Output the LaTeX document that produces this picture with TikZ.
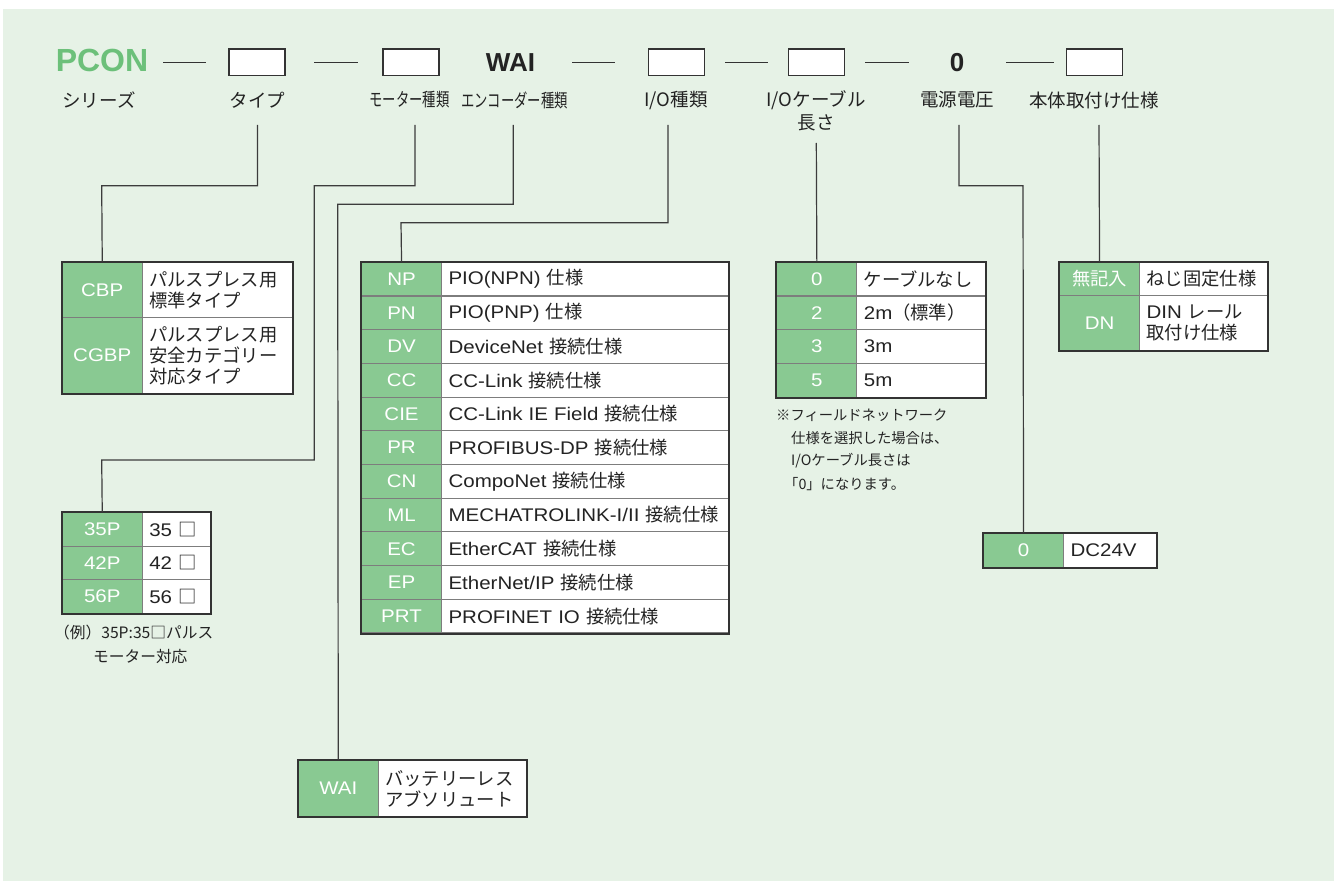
\documentclass[tikz,border=0pt]{standalone}
\usepackage{fontspec}
\setmainfont{Noto Sans CJK JP}
\newfontfamily\latn[FakeStretch=1.12]{Liberation Sans}
\newfontfamily\hdrf{Liberation Sans}
\definecolor{bggreen}{RGB}{230,242,230}
\definecolor{cellgreen}{RGB}{137,201,146}
\definecolor{pcongreen}{RGB}{108,192,122}
\definecolor{darkline}{RGB}{51,51,51}
\definecolor{gridgray}{RGB}{125,125,125}
\definecolor{conngray}{RGB}{60,60,60}
\definecolor{txt}{RGB}{35,35,35}
\begin{document}
\begin{tikzpicture}[x=1pt,y=-1pt,
  code/.style={draw=gridgray,line width=1.1pt,fill=cellgreen,text=white,minimum width=80pt,inner sep=0pt,anchor=north west,font=\latn\fontsize{18.3}{21}\selectfont},
  desc/.style={draw=gridgray,line width=1.1pt,fill=white,text=txt,inner xsep=7pt,inner ysep=0pt,anchor=north west,align=left,font=\fontsize{18.3}{21}\selectfont},
  outer/.style={draw=darkline,line width=2pt},
  hbox/.style={draw=darkline,line width=1.4pt,fill=white,minimum width=56pt,minimum height=26.7pt,inner sep=0pt},
  hdash/.style={draw=darkline,line width=1.1pt},
  lbl/.style={text=txt,inner sep=0pt,font=\fontsize{18.5}{22}\selectfont},
  conn/.style={draw=conngray,line width=1.2pt},
  note/.style={text=txt,inner sep=0pt,anchor=west,font=\fontsize{14.3}{17}\selectfont},
  note2/.style={text=txt,inner sep=0pt,anchor=west,font=\fontsize{15.7}{18}\selectfont},
]
\useasboundingbox (0,0) rectangle (1337,893);
\fill[bggreen] (3,9) rectangle (1334,881);

% ---------- header ----------
\node[text=pcongreen,inner sep=0pt,anchor=base,font=\hdrf\bfseries\fontsize{32}{32}\selectfont] (pcon) at (102,71.7) {PCON};
\node[hbox] (b1) at (257,62.3) {};
\node[hbox] (b2) at (411,62.3) {};
\node[text=txt,inner sep=0pt,anchor=base,font=\hdrf\bfseries\fontsize{26}{26}\selectfont] (wai0) at (510.5,71.7) {WAI};
\node[hbox] (b3) at (676.3,62.3) {};
\node[hbox] (b4) at (816.5,62.3) {};
\node[text=txt,inner sep=0pt,anchor=base,font=\hdrf\bfseries\fontsize{26}{26}\selectfont] (zero) at (957,71.7) {0};
\node[hbox] (b5) at (1094.5,62.3) {};
\draw[hdash] (163,62.3) -- (206,62.3);
\draw[hdash] (314,62.3) -- (357.5,62.3);
\draw[hdash] (572,62.3) -- (615,62.3);
\draw[hdash] (725,62.3) -- (767.5,62.3);
\draw[hdash] (865,62.3) -- (908.6,62.3);
\draw[hdash] (1006,62.3) -- (1054,62.3);

\node[lbl] (lser) at (99,100) {シリーズ};
\node[lbl] (ltype) at (257.5,100) {タイプ};
\node[lbl] (lmot) at (409.5,100) {\scalebox{0.72}[1]{モーター種類}};
\node[lbl] (lenc) at (514.5,100) {\scalebox{0.72}[1]{エンコーダー種類}};
\node[lbl] (lio) at (676,100) {I/O種類};
\node[lbl] (lcab) at (816,100) {I/Oケーブル};
\node[lbl] (lcab2) at (816,122.5) {長さ};
\node[lbl] (lpow) at (957,100) {電源電圧};
\node[lbl] (lmnt) at (1094,100) {本体取付け仕様};

\coordinate (ct) at (257.5,125);
\coordinate (cm) at (415,125);
\coordinate (ce) at (513.3,125);
\coordinate (cio) at (668,125);
\coordinate (ccab) at (816.3,143);
\coordinate (cpow) at (959,125);
\coordinate (cmt) at (1099,125);

% ---------- CBP table ----------
\node[code,minimum height=55pt] (cbp) at (61.7,261.7) {CBP};
\node[desc,text width=136pt,minimum height=55pt] (cbpd) at (141.7,261.7) {パルスプレス用\\標準タイプ};
\node[code,minimum height=76.3pt] (cgbp) at (61.7,316.7) {CGBP};
\node[desc,text width=136pt,minimum height=76.3pt] (cgbpd) at (141.7,316.7) {パルスプレス用\\安全カテゴリー\\対応タイプ};
\draw[outer] (cbp.north west) rectangle (cgbpd.south east);

% ---------- motor table ----------
\node[code,minimum height=33.5pt] (p35) at (61.7,512) {35P};
\node[desc,text width=54.3pt,minimum height=33.5pt] (p35d) at (141.7,512) {{\latn 35 }□};
\node[code,minimum height=33.5pt] (p42) at (61.7,545.5) {42P};
\node[desc,text width=54.3pt,minimum height=33.5pt] (p42d) at (141.7,545.5) {{\latn 42 }□};
\node[code,minimum height=33.5pt] (p56) at (61.7,579) {56P};
\node[desc,text width=54.3pt,minimum height=33.5pt] (p56d) at (141.7,579) {{\latn 56 }□};
\draw[outer] (p35.north west) rectangle (p56d.south east);
\node[note2] (n35a) at (54,633) {（例）35P:35□パルス};
\node[note2] (n35b) at (93,657) {モーター対応};

% ---------- WAI table ----------
\node[code,minimum height=56pt] (wai) at (297.7,760) {WAI};
\node[desc,text width=134pt,minimum height=56pt] (waid) at (377.7,760) {バッテリーレス\\アブソリュート};
\draw[outer] (wai.north west) rectangle (waid.south east);

% ---------- I/O table ----------
\node[code,minimum height=33.7pt] (np) at (361,261.7) {NP};
\node[desc,text width=273pt,minimum height=33.7pt] (npd) at (441,261.7) {{\latn PIO(NPN)} 仕様};
\node[code,minimum height=33.7pt] (pn) at (361,295.4) {PN};
\node[desc,text width=273pt,minimum height=33.7pt] (pnd) at (441,295.4) {{\latn PIO(PNP)} 仕様};
\node[code,minimum height=33.7pt] (dv) at (361,329.1) {DV};
\node[desc,text width=273pt,minimum height=33.7pt] (dvd) at (441,329.1) {{\latn DeviceNet} 接続仕様};
\node[code,minimum height=33.7pt] (cc) at (361,362.8) {CC};
\node[desc,text width=273pt,minimum height=33.7pt] (ccd) at (441,362.8) {{\latn CC-Link} 接続仕様};
\node[code,minimum height=33.7pt] (cie) at (361,396.5) {CIE};
\node[desc,text width=273pt,minimum height=33.7pt] (cied) at (441,396.5) {{\latn CC-Link IE Field} 接続仕様};
\node[code,minimum height=33.7pt] (pr) at (361,430.2) {PR};
\node[desc,text width=273pt,minimum height=33.7pt] (prd) at (441,430.2) {{\latn PROFIBUS-DP} 接続仕様};
\node[code,minimum height=33.7pt] (cn) at (361,463.9) {CN};
\node[desc,text width=273pt,minimum height=33.7pt] (cnd) at (441,463.9) {{\latn CompoNet} 接続仕様};
\node[code,minimum height=33.7pt] (ml) at (361,497.6) {ML};
\node[desc,text width=273pt,minimum height=33.7pt] (mld) at (441,497.6) {{\latn MECHATROLINK-I/II} 接続仕様};
\node[code,minimum height=33.7pt] (ec) at (361,531.3) {EC};
\node[desc,text width=273pt,minimum height=33.7pt] (ecd) at (441,531.3) {{\latn EtherCAT} 接続仕様};
\node[code,minimum height=33.7pt] (ep) at (361,565) {EP};
\node[desc,text width=273pt,minimum height=33.7pt] (epd) at (441,565) {{\latn EtherNet/IP} 接続仕様};
\node[code,minimum height=33.7pt] (prt) at (361,598.7) {PRT};
\node[desc,text width=273pt,minimum height=33.7pt] (prtd) at (441,598.7) {{\latn PROFINET IO} 接続仕様};
\draw[outer] (np.north west) rectangle (prtd.south east);

% ---------- cable table ----------
\node[code,minimum height=33.7pt] (c0) at (776.3,261.7) {0};
\node[desc,text width=114.3pt,minimum height=33.7pt] (c0d) at (856.3,261.7) {ケーブルなし};
\node[code,minimum height=33.7pt] (c2) at (776.3,295.4) {2};
\node[desc,text width=114.3pt,minimum height=33.7pt] (c2d) at (856.3,295.4) {{\latn 2m}（標準）};
\node[code,minimum height=33.7pt] (c3) at (776.3,329.1) {3};
\node[desc,text width=114.3pt,minimum height=33.7pt] (c3d) at (856.3,329.1) {{\latn 3m}};
\node[code,minimum height=33.7pt] (c5) at (776.3,362.8) {5};
\node[desc,text width=114.3pt,minimum height=33.7pt] (c5d) at (856.3,362.8) {{\latn 5m}};
\draw[outer] (c0.north west) rectangle (c5d.south east);
\node[note] (nc1) at (776,415) {※フィールドネットワーク};
\node[note] (nc2) at (791,438) {仕様を選択した場合は、};
\node[note] (nc3) at (791,461) {I/Oケーブル長さは};
\node[note] (nc4) at (784,484) {「0」になります。};

% ---------- power table ----------
\node[code,minimum height=33.7pt] (pw0) at (983,533) {0};
\node[desc,text width=78.7pt,minimum height=33.7pt] (pw0d) at (1063,533) {{\latn DC24V}};
\draw[outer] (pw0.north west) rectangle (pw0d.south east);

% ---------- mounting table ----------
\node[code,minimum height=33.3pt] (mt1) at (1059,261.7) {{\normalfont 無記入}};
\node[desc,text width=114pt,minimum height=33.3pt] (mt1d) at (1139,261.7) {ねじ固定仕様};
\node[code,minimum height=55pt] (mt2) at (1059,295) {DN};
\node[desc,text width=114pt,minimum height=55pt] (mt2d) at (1139,295) {{\latn DIN} レール\\取付け仕様};
\draw[outer] (mt1.north west) rectangle (mt2d.south east);

% ---------- connectors ----------
\draw[conn] (ct) |- (101.7,185.7) -- (cbp.north);
\draw[conn] (cm) |- (314.3,185.7) |- (101.7,460) -- (p35.north);
\draw[conn] (ce) |- (337.7,204.3) -- (wai.north);
\draw[conn] (cio) |- (401,222.7) -- (np.north);
\draw[conn] (ccab) -- (c0.north);
\draw[conn] (cpow) |- (1023,185.7) -- (pw0.north);
\draw[conn] (cmt) -- (mt1.north);
\end{tikzpicture}
\end{document}
